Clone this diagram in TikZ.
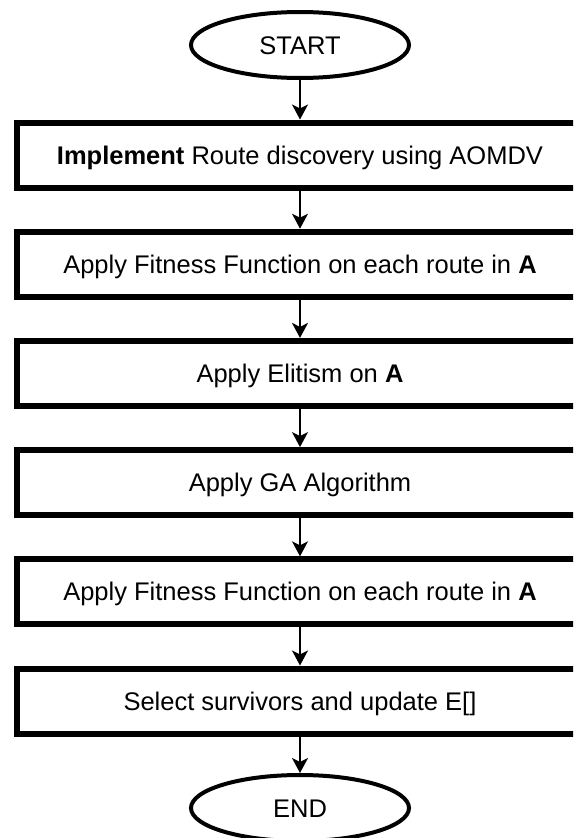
\documentclass[tikz,border=0pt]{standalone}
\usepackage{fontspec}
\setmainfont{Liberation Sans}
\usetikzlibrary{shapes.geometric,arrows.meta}
\begin{document}
\begin{tikzpicture}[x=1pt,y=-1pt,
  procbox/.style={draw, line width=6pt, rectangle, minimum width=566pt, minimum height=65pt, inner sep=0pt, text height=18.3pt, text depth=0pt, font=\fontsize{25.5}{30}\selectfont},
  term/.style={draw, line width=4pt, ellipse, minimum width=218pt, minimum height=66pt, inner sep=0pt, text height=18.3pt, text depth=0pt, font=\fontsize{25.5}{30}\selectfont},
  flow/.style={line width=1.5pt, -{Stealth[length=15pt,width=16pt,inset=4pt]}}]
\useasboundingbox (0,0) rectangle (573,838);
\clip (0,0) rectangle (573,838);
\node[term] (start) at (300,45) {START};
\node[procbox] (b1) at (300,155) {\textbf{Implement} Route discovery using AOMDV};
\node[procbox] (b2) at (300,264.2) {Apply Fitness Function on each route in \textbf{A}};
\node[procbox] (b3) at (300,373.4) {Apply Elitism on \textbf{A}};
\node[procbox] (b4) at (300,482.6) {Apply GA Algorithm};
\node[procbox] (b5) at (300,591.8) {Apply Fitness Function on each route in \textbf{A}};
\node[procbox] (b6) at (300,701) {Select survivors and update E[]};
\node[term] (end) at (300,808) {END};
\draw[flow] (start) -- (b1);
\draw[flow] (b1) -- (b2);
\draw[flow] (b2) -- (b3);
\draw[flow] (b3) -- (b4);
\draw[flow] (b4) -- (b5);
\draw[flow] (b5) -- (b6);
\draw[flow] (b6) -- (end);
\end{tikzpicture}
\end{document}
